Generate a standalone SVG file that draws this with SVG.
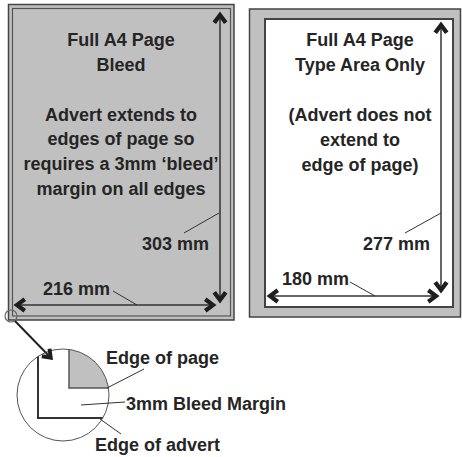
<svg xmlns="http://www.w3.org/2000/svg" width="462" height="457" viewBox="0 0 462 457">
<defs>
<style>
text{font-family:"Liberation Sans",Arial,sans-serif;font-weight:bold;font-size:18px;fill:#252525;}
.c{text-anchor:middle;}
.dim{stroke:#333;stroke-width:1.5;fill:none;}
.lead{stroke:#333;stroke-width:1;fill:none;}
</style>
<marker id="ah" viewBox="-12 -9 14 18" markerWidth="14" markerHeight="18" refX="0" refY="0" orient="auto-start-reverse" markerUnits="userSpaceOnUse">
<path d="M1.5,0 L-8.5,-7.5 L-11,-4 L-5.5,0 L-11,4 L-8.5,7.5 Z" fill="#1e1e1e"/>
</marker>
<marker id="ah2" viewBox="-12 -9 14 18" markerWidth="13" markerHeight="17" refX="0" refY="0" orient="auto" markerUnits="userSpaceOnUse">
<path d="M1.5,0 L-8.5,-7.5 L-11,-4 L-5.5,0 L-11,4 L-8.5,7.5 Z" fill="#1e1e1e"/>
</marker>
<clipPath id="cc"><circle cx="63" cy="395" r="46"/></clipPath>
</defs>

<g id="page-bleed">
<rect x="8.5" y="4.5" width="225.5" height="315.5" fill="#c0c0c0" stroke="#444" stroke-width="1.5"/>
<rect x="12.5" y="8.5" width="218" height="307.5" fill="none" stroke="#555" stroke-width="1.2"/>
<text class="c" x="121" y="46">Full A4 Page</text>
<text class="c" x="121" y="71">Bleed</text>
<text class="c" x="121" y="121">Advert extends to</text>
<text class="c" x="121" y="145">edges of page so</text>
<text class="c" x="121" y="170">requires a 3mm ‘bleed’</text>
<text class="c" x="121" y="195">margin on all edges</text>
<text x="142" y="250">303 mm</text>
<text x="43" y="295">216 mm</text>
</g>

<g id="page-type">
<rect x="249.5" y="9" width="211" height="308" fill="#c0c0c0" stroke="#444" stroke-width="1.5"/>
<rect x="265" y="19" width="188" height="288" fill="#fff" stroke="#444" stroke-width="2"/>
<text class="c" x="360" y="46">Full A4 Page</text>
<text class="c" x="360" y="71">Type Area Only</text>
<text class="c" x="360" y="121">(Advert does not</text>
<text class="c" x="360" y="146">extend to</text>
<text class="c" x="360" y="171">edge of page)</text>
<text x="363" y="250">277 mm</text>
<text x="282" y="285">180 mm</text>
</g>

<g id="detail">
<g clip-path="url(#cc)">
<rect x="69" y="340" width="50" height="48" fill="#c0c0c0" stroke="#555" stroke-width="1.5"/>
<path d="M38,340 V418 H120" fill="none" stroke="#333" stroke-width="2"/>
</g>
<circle cx="63" cy="395" r="46" fill="none" stroke="#555" stroke-width="1"/>
<circle cx="11" cy="316" r="6" fill="none" stroke="#666" stroke-width="1.2"/>
<text x="106" y="364">Edge of page</text>
<text x="126" y="410">3mm Bleed Margin</text>
<text x="95" y="451">Edge of advert</text>
</g>

<g id="connectors">
<line class="dim" x1="220" y1="13" x2="220" y2="302" marker-start="url(#ah)" marker-end="url(#ah)"/>
<line class="dim" x1="15" y1="305" x2="215" y2="305" marker-start="url(#ah)" marker-end="url(#ah)"/>
<line class="dim" x1="441" y1="23" x2="441" y2="292" marker-start="url(#ah)" marker-end="url(#ah)"/>
<line class="dim" x1="268" y1="296" x2="438" y2="296" marker-start="url(#ah)" marker-end="url(#ah)"/>
<line class="lead" x1="184" y1="233" x2="219" y2="213"/>
<line class="lead" x1="113" y1="291" x2="137" y2="305"/>
<line class="lead" x1="405" y1="233" x2="441" y2="213"/>
<line class="lead" x1="350" y1="282" x2="375" y2="296"/>
<line x1="15" y1="321" x2="52" y2="359" stroke="#222" stroke-width="2" marker-end="url(#ah2)"/>
<line class="lead" x1="107" y1="388" x2="144" y2="369"/>
<line class="lead" x1="81" y1="405" x2="125" y2="402"/>
<line class="lead" x1="100" y1="419" x2="121" y2="434"/>
</g>
</svg>
